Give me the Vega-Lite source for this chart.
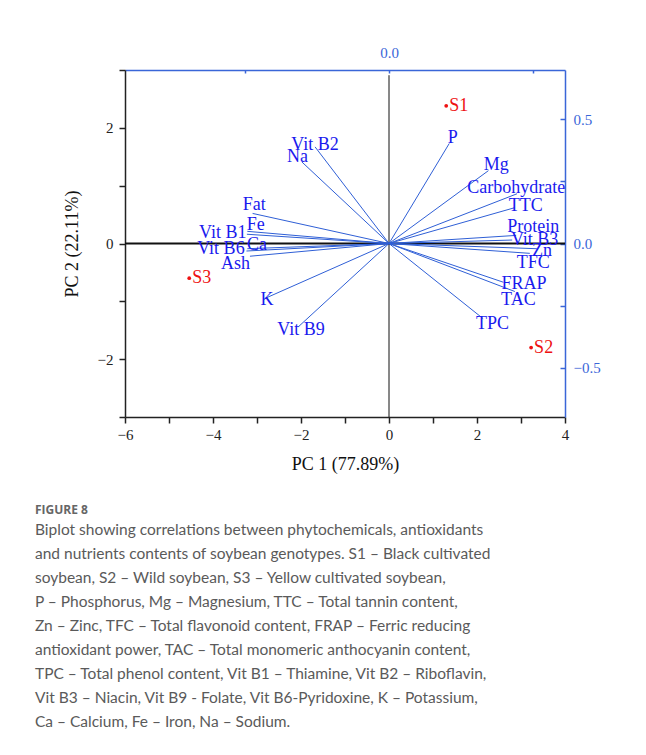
{
  "$schema": "https://vega.github.io/schema/vega-lite/v6.json",
  "width": 440,
  "height": 347,
  "autosize": {"type": "none"},
  "padding": {"left": 125, "top": 70, "right": 81, "bottom": 338},
  "background": "white",
  "config": {"view": {"stroke": null}, "font": "Liberation Serif"},
  "datasets": {
    "vectors": [
      {"variable": "Vit B2", "pc1": -1.68, "pc2": 1.67, "lx": -1.68, "ly": 1.70},
      {"variable": "Na", "pc1": -1.98, "pc2": 1.41, "lx": -2.08, "ly": 1.49},
      {"variable": "Fat", "pc1": -3.10, "pc2": 0.52, "lx": -3.06, "ly": 0.66},
      {"variable": "Fe", "pc1": -3.22, "pc2": 0.21, "lx": -3.03, "ly": 0.32},
      {"variable": "Vit B1", "pc1": -3.23, "pc2": 0.16, "lx": -3.78, "ly": 0.18},
      {"variable": "Ca", "pc1": -3.22, "pc2": -0.09, "lx": -3.00, "ly": -0.03},
      {"variable": "Vit B6", "pc1": -3.24, "pc2": -0.13, "lx": -3.82, "ly": -0.10},
      {"variable": "Ash", "pc1": -3.16, "pc2": -0.22, "lx": -3.49, "ly": -0.35},
      {"variable": "K", "pc1": -2.82, "pc2": -0.95, "lx": -2.77, "ly": -0.98},
      {"variable": "Vit B9", "pc1": -2.06, "pc2": -1.44, "lx": -2.00, "ly": -1.50},
      {"variable": "P", "pc1": 1.37, "pc2": 1.73, "lx": 1.45, "ly": 1.83},
      {"variable": "Mg", "pc1": 2.26, "pc2": 1.26, "lx": 2.44, "ly": 1.35},
      {"variable": "Carbohydrate", "pc1": 2.91, "pc2": 0.86, "lx": 2.89, "ly": 0.96},
      {"variable": "TTC", "pc1": 2.86, "pc2": 0.62, "lx": 3.11, "ly": 0.65},
      {"variable": "Protein", "pc1": 2.89, "pc2": 0.14, "lx": 3.28, "ly": 0.28},
      {"variable": "Vit B3", "pc1": 2.80, "pc2": 0.06, "lx": 3.31, "ly": 0.06},
      {"variable": "Zn", "pc1": 3.36, "pc2": -0.09, "lx": 3.48, "ly": -0.13},
      {"variable": "TFC", "pc1": 3.20, "pc2": -0.17, "lx": 3.28, "ly": -0.33},
      {"variable": "FRAP", "pc1": 2.60, "pc2": -0.67, "lx": 3.07, "ly": -0.70},
      {"variable": "TAC", "pc1": 2.86, "pc2": -0.83, "lx": 2.94, "ly": -0.97},
      {"variable": "TPC", "pc1": 2.14, "pc2": -1.30, "lx": 2.35, "ly": -1.40}
    ],
    "samples": [
      {"sample": "S1", "pc1": 1.30, "pc2": 2.38},
      {"sample": "S2", "pc1": 3.23, "pc2": -1.80},
      {"sample": "S3", "pc1": -4.54, "pc2": -0.60}
    ]
  },
  "title": {
    "text": "FIGURE 8",
    "subtitle": [
      "Biplot showing correlations between phytochemicals, antioxidants",
      "and nutrients contents of soybean genotypes. S1 – Black cultivated",
      "soybean, S2 – Wild soybean, S3 – Yellow cultivated soybean,",
      "P – Phosphorus, Mg – Magnesium, TTC – Total tannin content,",
      "Zn – Zinc, TFC – Total flavonoid content, FRAP – Ferric reducing",
      "antioxidant power, TAC – Total monomeric anthocyanin content,",
      "TPC – Total phenol content, Vit B1 – Thiamine, Vit B2 – Riboflavin,",
      "Vit B3 – Niacin, Vit B9 - Folate, Vit B6-Pyridoxine, K – Potassium,",
      "Ca – Calcium, Fe – Iron, Na – Sodium."
    ],
    "orient": "bottom",
    "anchor": "start",
    "frame": "group",
    "dx": -90,
    "offset": 32,
    "font": "Open Sans",
    "fontSize": 12,
    "fontWeight": "bold",
    "color": "#666666",
    "subtitleFont": "Lato",
    "subtitleFontSize": 15.5,
    "subtitleColor": "#5a5a5a",
    "subtitleLineHeight": 24,
    "subtitlePadding": 6
  },
  "layer": [
    {
      "data": {"values": [{"from": -6, "to": 4, "level": 0}]},
      "mark": {"type": "rule", "color": "#111111", "strokeWidth": 2},
      "encoding": {
        "x": {
          "field": "from", "type": "quantitative",
          "scale": {"domain": [-6, 4], "nice": false, "zero": false},
          "axis": {
            "orient": "bottom",
            "title": "PC 1 (77.89%)",
            "values": [-6, -5, -4, -3, -2, -1, 0, 1, 2, 3, 4],
            "labelExpr": "datum.value % 2 == 0 ? format(datum.value, 'd') : ''",
            "labelFlush": false,
            "grid": false,
            "domainColor": "#222222", "domainWidth": 1.5,
            "tickColor": "#222222", "tickWidth": 1.5,
            "tickSize": 6,
            "labelPadding": 4,
            "labelFont": "Liberation Serif", "labelFontSize": 15, "labelColor": "#222222",
            "titleFont": "Liberation Serif", "titleFontSize": 18, "titleFontWeight": "normal", "titleColor": "#111111",
            "titlePadding": 13
          }
        },
        "x2": {"field": "to"},
        "y": {
          "field": "level", "type": "quantitative",
          "scale": {"domain": [-3, 3], "nice": false, "zero": false},
          "axis": {
            "orient": "left",
            "title": "PC 2 (22.11%)",
            "values": [-3, -2, -1, 0, 1, 2, 3],
            "labelExpr": "datum.value % 2 == 0 ? format(datum.value, 'd') : ''",
            "labelFlush": false,
            "grid": false,
            "domainColor": "#222222", "domainWidth": 1.5,
            "tickColor": "#222222", "tickWidth": 1.5,
            "tickSize": 6,
            "labelPadding": 6,
            "labelFont": "Liberation Serif", "labelFontSize": 15, "labelColor": "#222222",
            "titleFont": "Liberation Serif", "titleFontSize": 18, "titleFontWeight": "normal", "titleColor": "#111111",
            "titlePadding": 16
          }
        }
      }
    },
    {
      "data": {"values": [{"level": 0, "from": -3, "to": 2.91}]},
      "mark": {"type": "rule", "color": "#111111", "strokeWidth": 1},
      "encoding": {
        "x": {"field": "level", "type": "quantitative", "axis": null},
        "y": {"field": "from", "type": "quantitative", "axis": null},
        "y2": {"field": "to"}
      }
    },
    {
      "data": {"name": "vectors"},
      "mark": {"type": "rule", "color": "#2f5fd6", "strokeWidth": 1},
      "encoding": {
        "x": {"field": "pc1", "type": "quantitative", "axis": null},
        "y": {"field": "pc2", "type": "quantitative", "axis": null},
        "x2": {"datum": 0},
        "y2": {"datum": 0}
      }
    },
    {
      "data": {"name": "vectors"},
      "mark": {"type": "text", "color": "#1a1aee", "fontSize": 18, "font": "Liberation Serif", "align": "center", "baseline": "middle"},
      "encoding": {
        "x": {"field": "lx", "type": "quantitative", "axis": null},
        "y": {"field": "ly", "type": "quantitative", "axis": null},
        "text": {"field": "variable"}
      }
    },
    {
      "data": {"name": "samples"},
      "mark": {"type": "circle", "color": "#ee1111", "size": 14, "opacity": 1},
      "encoding": {
        "x": {"field": "pc1", "type": "quantitative", "axis": null},
        "y": {"field": "pc2", "type": "quantitative", "axis": null}
      }
    },
    {
      "data": {"name": "samples"},
      "mark": {"type": "text", "color": "#ee1111", "fontSize": 18, "font": "Liberation Serif", "align": "left", "baseline": "middle", "dx": 3},
      "encoding": {
        "x": {"field": "pc1", "type": "quantitative", "axis": null},
        "y": {"field": "pc2", "type": "quantitative", "axis": null},
        "text": {"field": "sample"}
      }
    },
    {
      "data": {"values": [{"pc1": 0, "pc2": 0}]},
      "mark": {"type": "point", "opacity": 0},
      "encoding": {
        "x": {
          "field": "pc1", "type": "quantitative",
          "axis": {
            "orient": "top",
            "title": null,
            "values": [-3.266, 0, 3.266],
            "labelExpr": "datum.value == 0 ? '0.0' : ''",
            "labelFlush": false,
            "grid": false,
            "domainColor": "#3a66d8", "domainWidth": 1.5,
            "tickColor": "#3a66d8", "tickWidth": 1.5,
            "tickSize": -3,
            "labelPadding": 13,
            "labelFont": "Liberation Serif", "labelFontSize": 15, "labelColor": "#3a66d8"
          }
        },
        "y": {
          "field": "pc2", "type": "quantitative",
          "axis": {
            "orient": "right",
            "title": null,
            "values": [-2.145, -1.073, 0, 1.073, 2.145],
            "labelExpr": "datum.value > 2 ? '0.5' : datum.value < -2 ? '−0.5' : datum.value == 0 ? '0.0' : ''",
            "labelFlush": false,
            "grid": false,
            "domainColor": "#3a66d8", "domainWidth": 1.5,
            "tickColor": "#3a66d8", "tickWidth": 1.5,
            "tickSize": -5,
            "labelPadding": 13,
            "labelFont": "Liberation Serif", "labelFontSize": 15, "labelColor": "#3a66d8"
          }
        }
      }
    }
  ],
  "resolve": {
    "axis": {"x": "independent", "y": "independent"}
  }
}
